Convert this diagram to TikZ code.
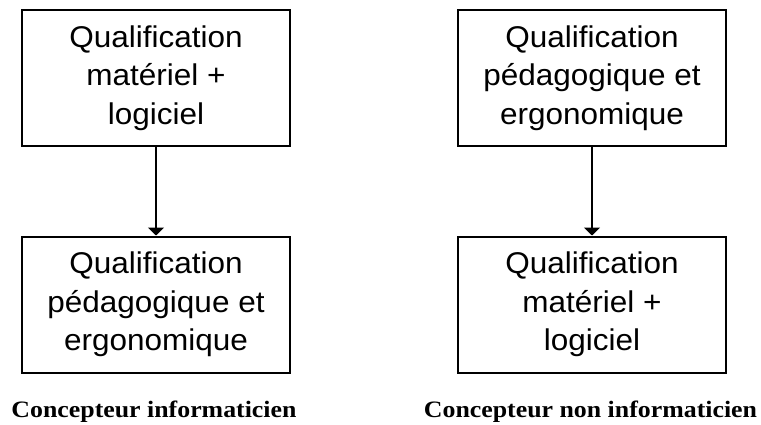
\documentclass[tikz,border=0pt]{standalone}
\usepackage{fontspec}
\setmainfont{Liberation Sans}[FakeStretch=1.05]
\newfontfamily\captionfont{Liberation Serif}[FakeStretch=1.1]
\usetikzlibrary{arrows.meta}

\begin{document}
\begin{tikzpicture}[x=1pt,y=-1pt,
  qualbox/.style={draw=black, line width=2pt, minimum width=268pt,
    minimum height=136pt, inner sep=0pt, align=center,
    font=\fontsize{30}{38.5}\selectfont},
  flow/.style={line width=2pt, -{Triangle[width=16pt,length=8pt]}},
  caption/.style={anchor=base, inner sep=0pt,
    font=\captionfont\bfseries\fontsize{23.5}{28}\selectfont}]
  \useasboundingbox (0,0) rectangle (761,424);

  % Left column: hardware/software qualification first
  \node[qualbox] (l1) at (156,78) {Qualification\\matériel +\\logiciel};
  \node[qualbox] (l2) at (156,304.5) {Qualification\\pédagogique et\\ergonomique};
  \draw[flow] (l1.south) -- (l2.north);
  \node[caption] (lc) at (154,417) {Concepteur informaticien};

  % Right column: pedagogical qualification first
  \node[qualbox] (r1) at (592,78) {Qualification\\pédagogique et\\ergonomique};
  \node[qualbox] (r2) at (592,304.5) {Qualification\\matériel +\\logiciel};
  \draw[flow] (r1.south) -- (r2.north);
  \node[caption] (rc) at (590.5,417) {Concepteur non informaticien};
\end{tikzpicture}
\end{document}
